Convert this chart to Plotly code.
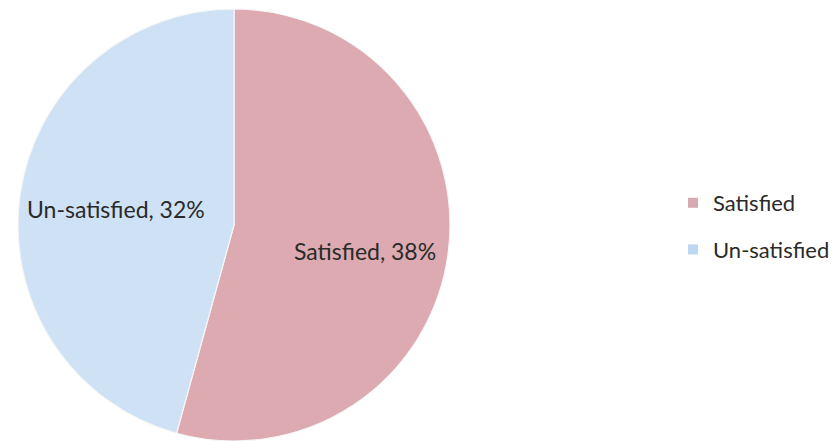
import math
import plotly.graph_objects as go

# Survey responses
categories = ["Satisfied", "Un-satisfied"]
values = [38, 32]
colors = ["#dcaab0", "#cfe2f5"]
legend_colors = ["#d6a9b3", "#bcd7f0"]

W, H = 835, 441
FONT = "Lato"

# Pie placement (pixels)
CX, CY, R = 234, 225, 216
label_radius = [0.61, 0.55]   # fraction of the radius for each slice label
label_nudge = [8, 0]          # extra downward shift of each label (pixels)

fig = go.Figure()

fig.add_trace(
    go.Pie(
        labels=categories,
        values=values,
        sort=False,
        direction="clockwise",
        rotation=0,
        marker=dict(colors=colors, line=dict(color="#f6f6f6", width=1.2)),
        textinfo="none",
        hoverinfo="label+value",
        showlegend=False,
        domain=dict(x=[(CX - R) / W, (CX + R) / W], y=[1 - (CY + R) / H, 1 - (CY - R) / H]),
    )
)

# Slice labels placed along each slice's mid-angle
total = sum(values)
start = 0.0
for name, v, lr, dy in zip(categories, values, label_radius, label_nudge):
    sweep = 360.0 * v / total
    mid = math.radians(start + sweep / 2)
    start += sweep
    px = CX + lr * R * math.sin(mid)
    py = CY - lr * R * math.cos(mid) + dy
    fig.add_annotation(
        x=px / W,
        y=1 - py / H,
        xref="paper",
        yref="paper",
        text=f"{name}, {v}%",
        showarrow=False,
        xanchor="center",
        yanchor="middle",
        font=dict(family=FONT, size=23, color="#2a2a2a"),
    )

# Legend entries, one per category
for name, col in zip(categories, legend_colors):
    fig.add_trace(
        go.Scatter(
            x=[None],
            y=[None],
            mode="markers",
            name=name,
            legendgroup=name,
            marker=dict(symbol="square", size=10, color=col),
            showlegend=True,
        )
    )

fig.update_layout(
    width=W,
    height=H,
    margin=dict(l=0, r=0, t=0, b=0),
    paper_bgcolor="white",
    plot_bgcolor="white",
    xaxis=dict(visible=False),
    yaxis=dict(visible=False),
    legend=dict(
        x=673 / W,
        y=1 - 226.5 / H,
        xanchor="left",
        yanchor="middle",
        font=dict(family=FONT, size=22, color="#2a2a2a"),
        itemwidth=30,
        tracegroupgap=15,
        bgcolor="rgba(0,0,0,0)",
    ),
)

fig.write_html("out.html")
